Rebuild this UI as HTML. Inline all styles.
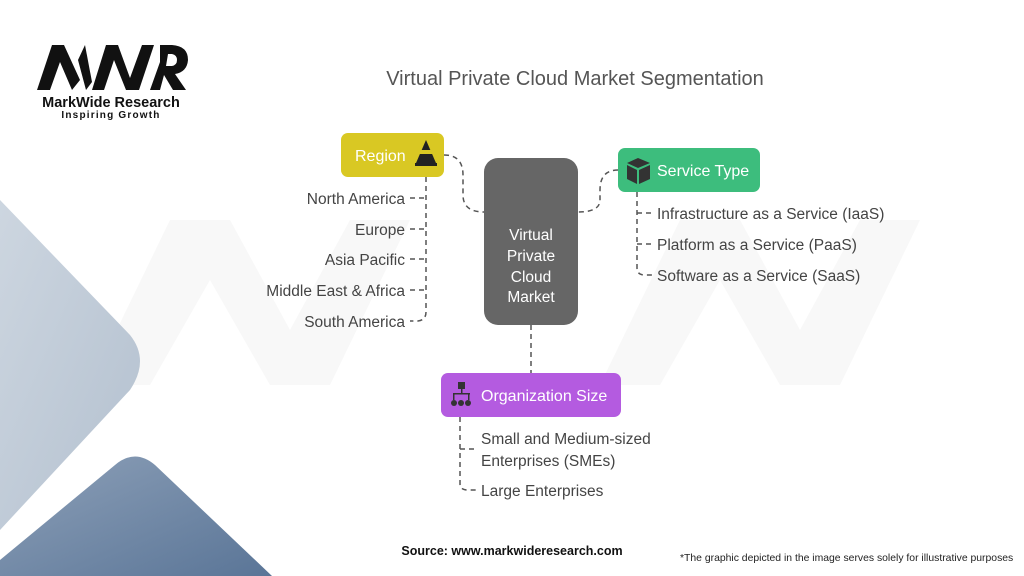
<!DOCTYPE html>
<html><head><meta charset="utf-8"><style>
html,body{margin:0;padding:0;background:#fff;}
svg{display:block;font-family:"Liberation Sans",sans-serif;}
</style></head><body>
<svg width="1024" height="576" viewBox="0 0 1024 576" xmlns="http://www.w3.org/2000/svg">
<defs>
<linearGradient id="g1" x1="0" y1="0" x2="1" y2="1"><stop offset="0" stop-color="#cdd6e0"/><stop offset="1" stop-color="#b3c0cf"/></linearGradient>
<linearGradient id="g2" x1="0" y1="0" x2="1" y2="1"><stop offset="0" stop-color="#8da0b8"/><stop offset="1" stop-color="#5a7597"/></linearGradient>
</defs>
<rect width="1024" height="576" fill="#fff"/>
<g fill="#f8f8f8">
<path d="M90 385 L170 220 L230 220 L290 330 L350 220 L410 220 L330 385 L270 385 L210 280 L150 385Z"/>
<path d="M600 385 L680 220 L740 220 L800 330 L860 220 L920 220 L840 385 L780 385 L720 280 L660 385Z"/>
</g>
<path d="M0 200 L130 335 Q150 360 130 390 L0 530 Z" fill="url(#g1)"/>
<path d="M0 560 L115 465 Q135 448 155 465 L272 576 L0 576 Z" fill="url(#g2)"/>
<g fill="#111">
<path d="M37 90 L52 45 L64 45 L80 80 L72 90 L60 62 L50 90 Z"/>
<path d="M78 60 L85 45 L92 82 L86 90Z"/>
<path d="M92 90 L106 45 L118 45 L130 78 L142 45 L154 45 L139 90 L126 90 L114 60 L104 90Z"/>
<path d="M150 90 L160 62 L160 45 L172 45 Q188 46 188 60 Q187 72 175 74 L186 90 L173 90 L164 75 L160 90Z M168 54 L166 66 L172 66 Q177 65 177 60 Q177 55 172 54Z"/>
</g>
<text x="111" y="107" font-size="14.5" font-weight="bold" text-anchor="middle" fill="#111">MarkWide Research</text>
<text x="111" y="118" font-size="10" font-weight="bold" text-anchor="middle" fill="#111" letter-spacing="1.2">Inspiring Growth</text>
<text x="575" y="85" font-size="20" text-anchor="middle" fill="#555">Virtual Private Cloud Market Segmentation</text>
<g fill="none" stroke="#555" stroke-width="1.5" stroke-dasharray="5,4">
<path d="M444 155 Q463 155 463 175 L463 195 Q463 212 484 212"/>
<path d="M618 170 Q600 170 600 190 L600 200 Q600 212 578 212"/>
<path d="M531 325 L531 373"/>
<path d="M426 177 L426 312 Q426 320 418 321 L410 321"/>
<path d="M410 198 L426 198 M410 229 L426 229 M410 259 L426 259 M410 290 L426 290"/>
<path d="M637 192 L637 268 Q637 275 645 275 L652 275"/>
<path d="M637 213 L652 213 M637 244 L652 244"/>
<path d="M460 417 L460 484 Q460 490 468 490 L476 490"/>
<path d="M460 449 L476 449"/>
</g>
<rect x="341" y="133" width="103" height="44" rx="7" fill="#d9c823"/>
<text x="355" y="161" font-size="16" fill="#fff">Region</text>
<path d="M426 140 L416 163 L436 163Z" fill="#222"/>
<rect x="419" y="150" width="14" height="4" fill="#d9c823"/>
<rect x="415" y="163" width="22" height="3" fill="#222"/>
<rect x="484" y="158" width="94" height="167" rx="14" fill="#666"/>
<g font-size="15.5" fill="#fff" text-anchor="middle">
<text x="531" y="240">Virtual</text><text x="531" y="261">Private</text><text x="531" y="282">Cloud</text><text x="531" y="302">Market</text>
</g>
<rect x="618" y="148" width="142" height="44" rx="7" fill="#3dbd7d"/>
<path d="M627 163 L638 158 L650 163 L638 168Z" fill="#333"/>
<path d="M627 165 L637 170 L637 184 L627 179Z M639 170 L650 165 L650 179 L639 184Z" fill="#333"/>
<text x="657" y="176" font-size="16" fill="#fff">Service Type</text>
<rect x="441" y="373" width="180" height="44" rx="7" fill="#b45be0"/>
<g fill="#333"><rect x="458" y="382" width="7" height="7"/><rect x="461" y="389" width="1.5" height="5"/><rect x="453" y="393" width="17" height="1.5"/><circle cx="454" cy="403" r="3"/><circle cx="461" cy="403" r="3"/><circle cx="468" cy="403" r="3"/><rect x="453" y="393" width="1.5" height="7"/><rect x="468" y="393" width="1.5" height="7"/></g>
<text x="481" y="401" font-size="16" fill="#fff">Organization Size</text>
<g font-size="15.5" fill="#444">
<g text-anchor="end">
<text x="405" y="204">North America</text>
<text x="405" y="235">Europe</text>
<text x="405" y="265">Asia Pacific</text>
<text x="405" y="296">Middle East &amp; Africa</text>
<text x="405" y="327">South America</text>
</g>
<text x="657" y="219">Infrastructure as a Service (IaaS)</text>
<text x="657" y="250">Platform as a Service (PaaS)</text>
<text x="657" y="281">Software as a Service (SaaS)</text>
<text x="481" y="444">Small and Medium-sized</text>
<text x="481" y="466">Enterprises (SMEs)</text>
<text x="481" y="496">Large Enterprises</text>
</g>
<text x="512" y="555" font-size="12.5" font-weight="bold" text-anchor="middle" fill="#111">Source: www.markwideresearch.com</text>
<text x="680" y="561" font-size="10.4" fill="#222">*The graphic depicted in the image serves solely for illustrative purposes</text>
</svg>
</body></html>
